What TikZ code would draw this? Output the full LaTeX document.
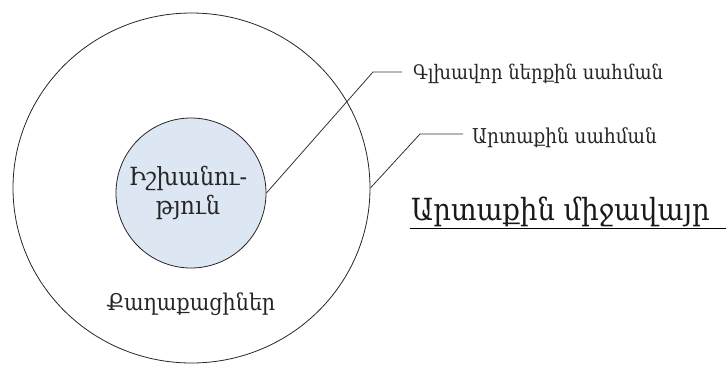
\documentclass[tikz,border=0pt]{standalone}
\usepackage{fontspec}
\usetikzlibrary{shapes.geometric}
\setmainfont{DejaVu Serif Condensed}
\tikzset{
  ring/.style={draw=black!85, line width=0.8pt},
  lead/.style={draw=black!80, line width=0.8pt},
  lab/.style={anchor=base west, inner sep=0pt, text=black!85, font=\fontsize{20}{24}\selectfont},
}
\definecolor{innerfill}{RGB}{221,230,243}
\begin{document}
\begin{tikzpicture}[x=1pt,y=-1pt]
\useasboundingbox (0,0) rectangle (726,365);
\node[ring, ellipse, minimum width=357pt, minimum height=350pt, inner sep=0pt, fill=white] (outer) at (191.5,188) {};
\node[ring, circle, minimum size=150pt, inner sep=0pt, fill=innerfill] (inner) at (191,193) {};
\node[align=center, inner sep=0pt, text=black!85, font=\fontsize{25}{29}\selectfont] (power) at (188,193) {Իշխանու-\\թյուն};
\node[anchor=base, text=black!85, font=\fontsize{23}{26}\selectfont] (citizens) at (191,310) {Քաղաքացիներ};
\coordinate (k1) at (373,72);
\coordinate (k2) at (420,134);
\node[lab] (lab1) at (413,79) {Գլխավոր ներքին սահման};
\node[lab, font=\fontsize{20.5}{24}\selectfont] (lab2) at (472,143) {Արտաքին սահման};
\node[anchor=base west, inner sep=0pt, text=black!90, font=\fontsize{30.5}{34}\selectfont] (env) at (411,220) {Արտաքին միջավայր};
\draw[lead] (inner.east) -- (k1) -- ([xshift=-11pt]lab1.west |- k1);
\draw[lead] (outer.east) -- (k2) -- ([xshift=-9pt]lab2.west |- k2);
\draw[black, line width=1pt] (env.base west) ++(-1,8) -- (726,228);
\end{tikzpicture}
\end{document}
